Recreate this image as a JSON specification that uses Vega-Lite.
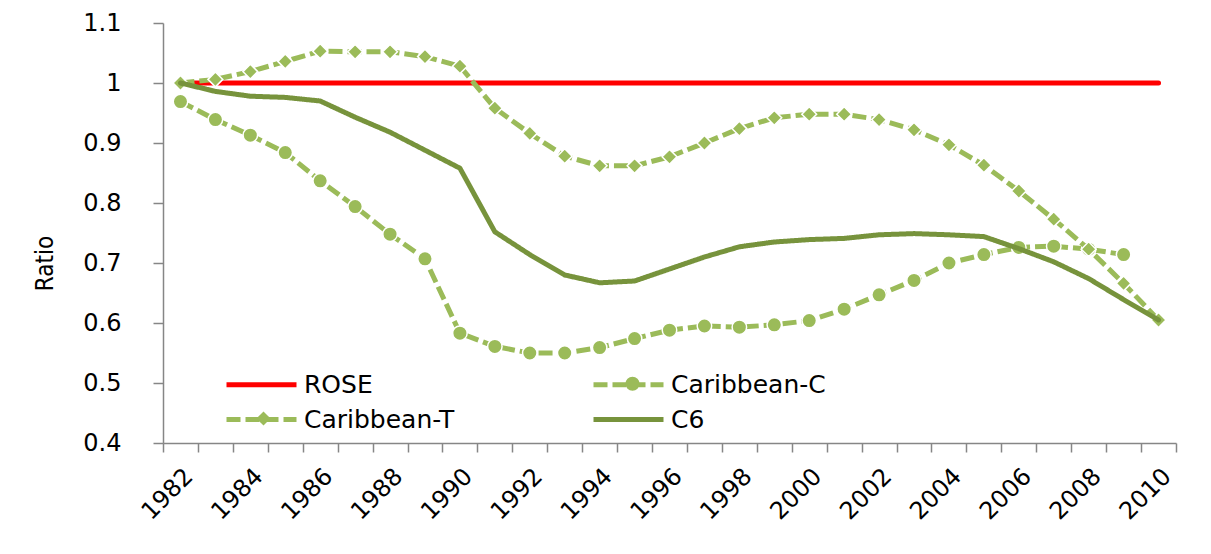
{
  "$schema": "https://vega.github.io/schema/vega-lite/v6.json",
  "width": 1013,
  "height": 420,
  "autosize": {"type": "none"},
  "padding": {"left": 163, "top": 23, "right": 35, "bottom": 111},
  "background": "white",
  "config": {
    "view": {"stroke": null},
    "font": "DejaVu Sans"
  },
  "datasets": {
    "wide": [
      {"year": 1982, "ROSE": 1, "Caribbean-C": 0.969, "Caribbean-T": 1.0, "C6": 1.0},
      {"year": 1983, "ROSE": 1, "Caribbean-C": 0.939, "Caribbean-T": 1.006, "C6": 0.986},
      {"year": 1984, "ROSE": 1, "Caribbean-C": 0.913, "Caribbean-T": 1.019, "C6": 0.978},
      {"year": 1985, "ROSE": 1, "Caribbean-C": 0.884, "Caribbean-T": 1.036, "C6": 0.976},
      {"year": 1986, "ROSE": 1, "Caribbean-C": 0.837, "Caribbean-T": 1.053, "C6": 0.97},
      {"year": 1987, "ROSE": 1, "Caribbean-C": 0.794, "Caribbean-T": 1.052, "C6": 0.943},
      {"year": 1988, "ROSE": 1, "Caribbean-C": 0.748, "Caribbean-T": 1.052, "C6": 0.918},
      {"year": 1989, "ROSE": 1, "Caribbean-C": 0.707, "Caribbean-T": 1.044, "C6": 0.888},
      {"year": 1990, "ROSE": 1, "Caribbean-C": 0.583, "Caribbean-T": 1.028, "C6": 0.858},
      {"year": 1991, "ROSE": 1, "Caribbean-C": 0.561, "Caribbean-T": 0.958, "C6": 0.752},
      {"year": 1992, "ROSE": 1, "Caribbean-C": 0.55, "Caribbean-T": 0.916, "C6": 0.714},
      {"year": 1993, "ROSE": 1, "Caribbean-C": 0.55, "Caribbean-T": 0.878, "C6": 0.68},
      {"year": 1994, "ROSE": 1, "Caribbean-C": 0.559, "Caribbean-T": 0.862, "C6": 0.667},
      {"year": 1995, "ROSE": 1, "Caribbean-C": 0.574, "Caribbean-T": 0.862, "C6": 0.67},
      {"year": 1996, "ROSE": 1, "Caribbean-C": 0.588, "Caribbean-T": 0.877, "C6": 0.69},
      {"year": 1997, "ROSE": 1, "Caribbean-C": 0.595, "Caribbean-T": 0.9, "C6": 0.71},
      {"year": 1998, "ROSE": 1, "Caribbean-C": 0.593, "Caribbean-T": 0.924, "C6": 0.727},
      {"year": 1999, "ROSE": 1, "Caribbean-C": 0.597, "Caribbean-T": 0.942, "C6": 0.735},
      {"year": 2000, "ROSE": 1, "Caribbean-C": 0.604, "Caribbean-T": 0.948, "C6": 0.739},
      {"year": 2001, "ROSE": 1, "Caribbean-C": 0.623, "Caribbean-T": 0.948, "C6": 0.741},
      {"year": 2002, "ROSE": 1, "Caribbean-C": 0.647, "Caribbean-T": 0.939, "C6": 0.747},
      {"year": 2003, "ROSE": 1, "Caribbean-C": 0.671, "Caribbean-T": 0.922, "C6": 0.749},
      {"year": 2004, "ROSE": 1, "Caribbean-C": 0.7, "Caribbean-T": 0.897, "C6": 0.747},
      {"year": 2005, "ROSE": 1, "Caribbean-C": 0.714, "Caribbean-T": 0.863, "C6": 0.744},
      {"year": 2006, "ROSE": 1, "Caribbean-C": 0.726, "Caribbean-T": 0.82, "C6": 0.724},
      {"year": 2007, "ROSE": 1, "Caribbean-C": 0.728, "Caribbean-T": 0.773, "C6": 0.702},
      {"year": 2008, "ROSE": 1, "Caribbean-C": 0.723, "Caribbean-T": 0.723, "C6": 0.674},
      {"year": 2009, "ROSE": 1, "Caribbean-C": 0.714, "Caribbean-T": 0.666, "C6": 0.639},
      {"year": 2010, "ROSE": 1, "Caribbean-C": null, "Caribbean-T": 0.605, "C6": 0.605}
    ]
  },
  "data": {"name": "wide"},
  "transform": [
    {"fold": ["ROSE", "Caribbean-C", "Caribbean-T", "C6"], "as": ["series", "value"]},
    {"filter": "datum.value != null"}
  ],
  "encoding": {
    "x": {
      "field": "year",
      "type": "ordinal",
      "scale": {"type": "band", "paddingInner": 0, "paddingOuter": 0},
      "axis": {
        "title": null,
        "tickBand": "extent",
        "labelExpr": "datum.value % 2 === 0 ? datum.label : ''",
        "labelAngle": -45,
        "labelFontSize": 24,
        "labelFont": "DejaVu Sans",
        "labelColor": "black",
        "labelOverlap": false,
        "labelBound": false,
        "labelPadding": 12,
        "domainColor": "#868686",
        "domainWidth": 1.5,
        "tickColor": "#868686",
        "tickWidth": 1.5,
        "tickSize": 9,
        "grid": false
      }
    },
    "y": {
      "field": "value",
      "type": "quantitative",
      "scale": {"domain": [0.4, 1.1], "nice": false, "zero": false},
      "axis": {
        "title": "Ratio",
        "titleFont": "Liberation Sans Narrow, DejaVu Sans Condensed, sans-serif",
        "titleFontSize": 24,
        "titleFontWeight": "normal",
        "titleColor": "black",
        "titleAngle": -90,
        "titleX": -118,
        "titleY": 240,
        "titleAlign": "center",
        "titleBaseline": "middle",
        "values": [0.4, 0.5, 0.6, 0.7, 0.8, 0.9, 1.0, 1.1],
        "format": ".1~f",
        "labelFontSize": 24,
        "labelFont": "DejaVu Sans",
        "labelColor": "black",
        "labelPadding": 32,
        "domainColor": "#868686",
        "domainWidth": 1.5,
        "tickColor": "#868686",
        "tickWidth": 1.5,
        "tickSize": 10,
        "grid": false
      }
    }
  },
  "layer": [
    {
      "transform": [{"filter": "datum.series === 'ROSE'"}],
      "mark": {"type": "line", "strokeCap": "round", "strokeJoin": "round"},
      "encoding": {
        "color": {"field": "series", "type": "nominal",
          "scale": {"domain": ["ROSE", "Caribbean-C", "Caribbean-T", "C6"], "range": ["#FF0000", "#9BBB59", "#9BBB59", "#77933C"]},
          "legend": {"title": null, "orient": "none", "legendX": 61, "legendY": 345, "columns": 2, "direction": "horizontal",
            "symbolType": "M-2.5,0H2.5", "symbolSize": 784, "symbolOffset": 21, "labelFontSize": 25, "labelFont": "DejaVu Sans", "labelColor": "black",
            "labelOffset": 26, "columnPadding": 128, "rowPadding": 5, "labelLimit": 400}},
        "strokeDash": {"field": "series", "type": "nominal",
          "scale": {"domain": ["ROSE", "Caribbean-C", "Caribbean-T", "C6"], "range": [[1, 0], [14, 5], [14, 5], [1, 0]]}},
        "strokeWidth": {"field": "series", "type": "nominal",
          "scale": {"domain": ["ROSE", "Caribbean-C", "Caribbean-T", "C6"], "range": [5, 5, 5, 8]}}
      }
    },
    {
      "transform": [{"filter": "datum.series === 'Caribbean-C'"}],
      "mark": {"type": "line", "strokeJoin": "round"},
      "encoding": {
        "color": {"field": "series", "type": "nominal"},
        "strokeDash": {"field": "series", "type": "nominal"},
        "strokeWidth": {"field": "series", "type": "nominal"}
      }
    },
    {
      "transform": [{"filter": "datum.series === 'Caribbean-C'"}],
      "mark": {"type": "point", "shape": "circle", "filled": true, "size": 210, "fill": "#9BBB59", "stroke": "white", "strokeWidth": 1.5, "opacity": 1}
    },
    {
      "transform": [{"filter": "datum.series === 'Caribbean-T'"}],
      "mark": {"type": "line", "strokeJoin": "round"},
      "encoding": {
        "color": {"field": "series", "type": "nominal"},
        "strokeDash": {"field": "series", "type": "nominal"},
        "strokeWidth": {"field": "series", "type": "nominal"}
      }
    },
    {
      "transform": [{"filter": "datum.series === 'Caribbean-T'"}],
      "mark": {"type": "point", "shape": "diamond", "filled": true, "size": 220, "fill": "#9BBB59", "stroke": "white", "strokeWidth": 1.5, "opacity": 1}
    },
    {
      "transform": [{"filter": "datum.series === 'C6'"}],
      "mark": {"type": "line", "strokeCap": "round", "strokeJoin": "round"},
      "encoding": {
        "color": {"field": "series", "type": "nominal"},
        "strokeDash": {"field": "series", "type": "nominal"},
        "strokeWidth": {"field": "series", "type": "nominal"}
      }
    },
    {
      "transform": [{"filter": "datum.series === '_'"}],
      "mark": {"type": "point", "filled": true, "color": "#9BBB59", "opacity": 1},
      "encoding": {
        "shape": {"field": "series", "type": "nominal",
          "scale": {"domain": ["ROSE", "Caribbean-C", "Caribbean-T", "C6", "_"], "range": ["M0,0", "circle", "diamond", "M0,0", "M0,0"]},
          "legend": {"title": null, "orient": "none", "legendX": 93, "legendY": 353, "columns": 2, "direction": "horizontal",
            "values": ["ROSE", "Caribbean-C", "Caribbean-T", "C6"],
            "symbolSize": 200, "symbolFillColor": "#9BBB59", "symbolStrokeColor": "#9BBB59", "symbolStrokeWidth": 0, "symbolOpacity": 1,
            "labelExpr": "''", "labelFontSize": 14, "labelOffset": 0, "columnPadding": 354, "rowPadding": 20}}
      }
    }
  ]
}
